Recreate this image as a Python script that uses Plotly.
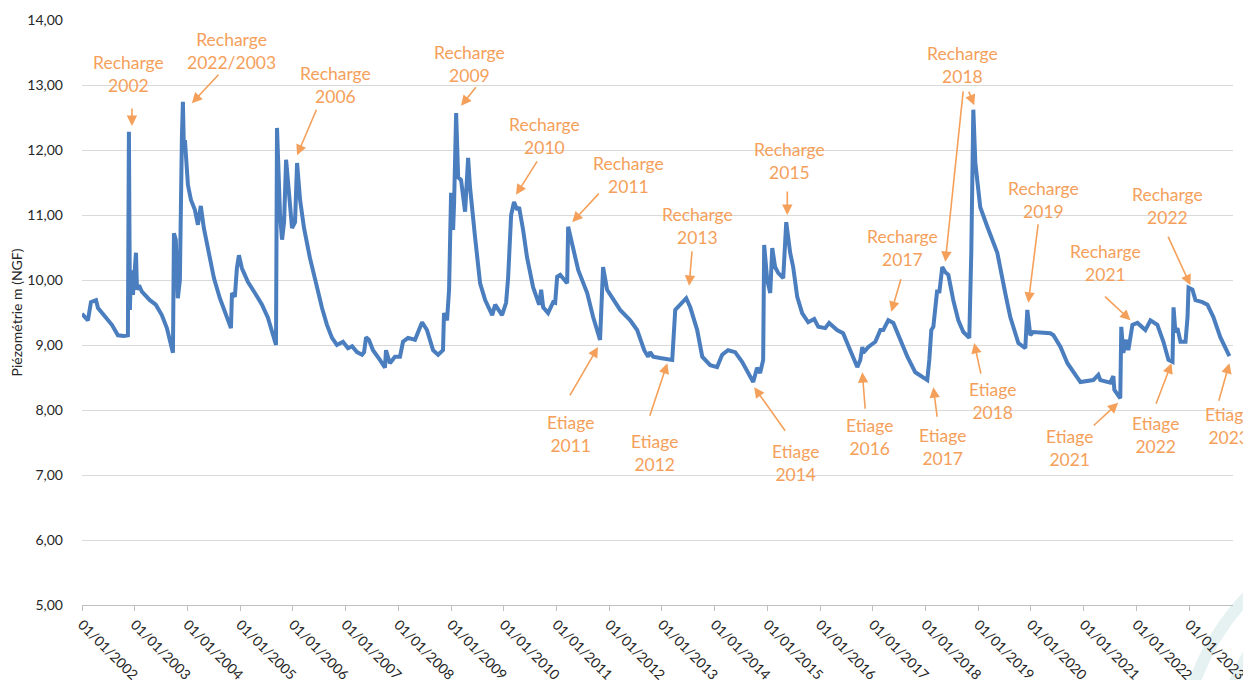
import plotly.graph_objects as go

# Chronique piézométrique
dates = [
    "2002-01-01", "2002-02-11", "2002-03-04", "2002-04-08", "2002-04-22", "2002-06-09",
    "2002-07-27", "2002-09-07", "2002-10-18", "2002-11-15", "2002-11-22", "2002-11-29",
    "2002-12-06", "2002-12-20", "2003-01-10", "2003-01-17", "2003-01-31", "2003-02-20",
    "2003-04-16", "2003-05-27", "2003-07-08", "2003-08-12", "2003-09-09", "2003-09-23",
    "2003-09-30", "2003-10-13", "2003-10-27", "2003-11-10", "2003-11-24", "2003-12-01",
    "2003-12-08", "2003-12-15", "2003-12-22", "2004-01-05", "2004-01-26", "2004-02-22",
    "2004-03-14", "2004-04-03", "2004-04-24", "2004-05-29", "2004-07-03", "2004-08-13",
    "2004-09-24", "2004-10-29", "2004-11-05", "2004-11-25", "2004-12-09", "2004-12-23",
    "2005-01-13", "2005-02-24", "2005-04-13", "2005-06-01", "2005-07-12", "2005-08-09",
    "2005-09-06", "2005-09-13", "2005-09-27", "2005-10-04", "2005-10-18", "2005-11-01",
    "2005-11-15", "2005-12-06", "2005-12-26", "2006-01-16", "2006-01-30", "2006-02-20",
    "2006-03-19", "2006-04-29", "2006-06-10", "2006-07-22", "2006-08-25", "2006-09-29",
    "2006-11-02", "2006-12-14", "2007-01-18", "2007-02-15", "2007-03-21", "2007-04-25",
    "2007-05-09", "2007-05-23", "2007-06-12", "2007-07-10", "2007-08-27", "2007-10-01",
    "2007-10-08", "2007-11-04", "2007-12-09", "2008-01-13", "2008-02-03", "2008-03-09",
    "2008-04-26", "2008-05-24", "2008-06-14", "2008-07-18", "2008-08-29", "2008-10-03",
    "2008-11-06", "2008-11-13", "2008-12-04", "2008-12-18", "2009-01-01", "2009-01-15",
    "2009-01-22", "2009-02-05", "2009-02-19", "2009-03-11", "2009-04-08", "2009-04-29",
    "2009-05-12", "2009-06-16", "2009-07-21", "2009-08-25", "2009-10-13", "2009-11-02",
    "2009-12-20", "2010-01-17", "2010-01-31", "2010-02-21", "2010-03-13", "2010-04-03",
    "2010-04-17", "2010-05-15", "2010-06-11", "2010-07-23", "2010-09-03", "2010-09-17",
    "2010-10-01", "2010-11-04", "2010-12-09", "2010-12-23", "2011-01-06", "2011-01-27",
    "2011-03-16", "2011-03-23", "2011-04-27", "2011-06-01", "2011-08-02", "2011-09-12",
    "2011-10-30", "2011-11-20", "2011-12-18", "2012-01-21", "2012-03-17", "2012-05-26",
    "2012-07-13", "2012-08-31", "2012-09-27", "2012-10-11", "2012-11-01", "2012-12-19",
    "2013-03-13", "2013-04-03", "2013-05-08", "2013-06-18", "2013-07-16", "2013-09-02",
    "2013-10-07", "2013-12-01", "2014-01-18", "2014-02-22", "2014-04-04", "2014-05-23",
    "2014-07-10", "2014-09-25", "2014-10-22", "2014-11-12", "2014-12-03", "2014-12-10",
    "2014-12-31", "2015-01-21", "2015-02-04", "2015-02-24", "2015-03-17", "2015-04-21",
    "2015-05-12", "2015-05-26", "2015-06-08", "2015-06-29", "2015-07-27", "2015-08-30",
    "2015-10-11", "2015-11-22", "2015-12-20", "2016-02-06", "2016-03-04", "2016-04-28",
    "2016-06-09", "2016-07-28", "2016-09-15", "2016-10-06", "2016-10-20", "2016-10-27",
    "2016-12-01", "2017-01-18", "2017-02-22", "2017-03-14", "2017-04-18", "2017-05-23",
    "2017-07-10", "2017-08-28", "2017-10-22", "2017-12-16", "2018-01-13", "2018-01-27",
    "2018-02-10", "2018-02-24", "2018-03-23", "2018-04-06", "2018-04-27", "2018-05-18",
    "2018-06-08", "2018-07-12", "2018-08-16", "2018-09-20", "2018-10-31", "2018-11-14",
    "2018-11-28", "2018-12-12", "2019-01-15", "2019-03-05", "2019-05-13", "2019-07-07",
    "2019-08-11", "2019-10-06", "2019-11-23", "2019-12-07", "2019-12-28", "2020-01-17",
    "2020-05-15", "2020-06-05", "2020-07-24", "2020-09-10", "2020-12-09", "2021-03-08",
    "2021-04-12", "2021-04-26", "2021-07-04", "2021-07-25", "2021-08-01", "2021-09-11",
    "2021-09-18", "2021-10-02", "2021-10-23", "2021-11-06", "2021-12-04", "2022-01-08",
    "2022-03-04", "2022-04-08", "2022-05-26", "2022-07-07", "2022-08-11", "2022-09-08",
    "2022-09-15", "2022-09-28", "2022-10-12", "2022-11-02", "2022-12-07", "2022-12-21",
    "2022-12-28", "2023-01-24", "2023-02-14", "2023-04-03", "2023-05-08", "2023-06-18",
    "2023-08-05", "2023-10-07",
]
niveaux = [
    9.48, 9.38, 9.66, 9.69, 9.57, 9.45,
    9.31, 9.15, 9.14, 9.15, 12.28, 9.54,
    10.15, 9.77, 10.42, 9.85, 9.92, 9.82,
    9.69, 9.62, 9.46, 9.26, 9.00, 8.88,
    10.72, 10.62, 9.72, 10.00, 12.18, 12.74,
    12.00, 12.15, 11.92, 11.46, 11.23, 11.08,
    10.85, 11.14, 10.80, 10.38, 10.03, 9.72,
    9.46, 9.26, 9.80, 9.74, 10.18, 10.38,
    10.18, 9.97, 9.80, 9.62, 9.42, 9.23,
    9.00, 12.34, 11.23, 11.00, 10.62, 10.89,
    11.85, 11.31, 10.80, 10.89, 11.80, 11.23,
    10.80, 10.34, 9.92, 9.57, 9.31, 9.11,
    9.00, 9.05, 8.95, 8.98, 8.89, 8.85,
    8.89, 9.12, 9.08, 8.92, 8.77, 8.65,
    8.92, 8.72, 8.82, 8.82, 9.05, 9.11,
    9.08, 9.23, 9.35, 9.23, 8.92, 8.85,
    8.92, 9.49, 9.38, 9.85, 11.34, 10.77,
    11.20, 12.57, 11.58, 11.54, 11.05, 11.88,
    11.43, 10.66, 9.95, 9.69, 9.46, 9.62,
    9.46, 9.65, 10.03, 11.00, 11.20, 11.08,
    11.12, 10.77, 10.35, 9.89, 9.62, 9.85,
    9.58, 9.49, 9.66, 9.65, 10.05, 10.08,
    9.95, 10.82, 10.51, 10.15, 9.80, 9.43,
    9.08, 10.20, 9.85, 9.74, 9.54, 9.38,
    9.23, 8.92, 8.82, 8.89, 8.82, 8.80,
    8.77, 9.54, 9.62, 9.72, 9.58, 9.23,
    8.82, 8.69, 8.66, 8.85, 8.92, 8.89,
    8.74, 8.43, 8.65, 8.57, 8.77, 10.54,
    10.00, 9.80, 10.49, 10.20, 10.11, 10.03,
    10.89, 10.66, 10.42, 10.20, 9.74, 9.49,
    9.35, 9.40, 9.28, 9.26, 9.34, 9.23,
    9.18, 8.92, 8.66, 8.77, 8.97, 8.88,
    8.97, 9.05, 9.23, 9.23, 9.38, 9.34,
    9.08, 8.82, 8.58, 8.51, 8.46, 8.77,
    9.23, 9.28, 9.85, 9.80, 10.20, 10.12,
    10.08, 9.69, 9.38, 9.20, 9.11, 10.43,
    12.62, 11.80, 11.12, 10.82, 10.42, 9.80,
    9.43, 9.03, 8.95, 9.54, 9.15, 9.20,
    9.18, 9.15, 8.97, 8.72, 8.43, 8.46,
    8.54, 8.46, 8.42, 8.52, 8.31, 8.18,
    9.28, 8.88, 9.08, 8.92, 9.31, 9.34,
    9.23, 9.38, 9.31, 9.05, 8.77, 8.74,
    9.58, 9.20, 9.26, 9.05, 9.05, 9.43,
    9.88, 9.85, 9.69, 9.66, 9.62, 9.43,
    9.12, 8.83,
]

# Annotations : texte, pointe de la flèche (date, niveau), queue (dx, dy px), centre du texte (dx, dy px)
annotations_txt = [
    ("Recharge<br>2002", "2002-12-13", 12.37, 0, -19, -3, -52),
    ("Recharge<br>2022/2003", "2004-02-01", 12.72, 28, -30, 40, -52),
    ("Recharge<br>2006", "2006-01-30", 11.92, 20, -47, 38, -70),
    ("Recharge<br>2009", "2009-03-11", 12.68, 16, -20, 8, -42),
    ("Recharge<br>2010", "2010-03-27", 11.31, 22, -35, 28, -59),
    ("Recharge<br>2011", "2011-04-20", 10.89, 28, -30, 56, -47),
    ("Recharge<br>2013", "2013-07-08", 9.91, 3, -36, 8, -60),
    ("Recharge<br>2015", "2015-05-19", 11.00, 0, -25, 2, -54),
    ("Recharge<br>2017", "2017-05-09", 9.51, 10, -34, 11, -64),
    ("Recharge<br>2018", "2018-05-18", 10.28, 18, -172, 17, -197),
    ("", "2018-12-04", 12.69, -6, -15, 0, 0),
    ("Recharge<br>2019", "2019-12-14", 9.65, 10, -80, 15, -103),
    ("Recharge<br>2021", "2021-11-21", 9.38, -27, -25, -25, -57),
    ("Recharge<br>2022", "2023-01-10", 9.92, -23, -50, -23, -79),
    ("Etiage<br>2011", "2011-10-16", 8.97, -29, 50, -28, 87),
    ("Etiage<br>2012", "2013-02-07", 8.72, -18, 54, -13, 90),
    ("Etiage<br>2014", "2014-10-02", 8.35, 32, 45, 41, 76),
    ("Etiage<br>2016", "2016-10-20", 8.58, 3, 38, 7, 65),
    ("Etiage<br>2017", "2018-02-24", 8.35, 4, 31, 9, 60),
    ("Etiage<br>2018", "2018-12-04", 9.03, 7, 32, 18, 58),
    ("Etiage<br>2021", "2021-08-28", 8.11, -26, 24, -49, 45),
    ("Etiage<br>2022", "2022-09-01", 8.72, -16, 42, -16, 72),
    ("Etiage<br>2023", "2023-10-07", 8.72, -11, 39, -1, 63),
]

orange = "#F5A05A"
bleu = "#4A7EBF"
police = "Lato, Carlito, Calibri, sans-serif"

fig = go.Figure()

fig.add_trace(go.Scatter(
    x=dates,
    y=niveaux,
    mode="lines",
    line=dict(color=bleu, width=4),
    showlegend=False,
))

annots = []
for texte, d, v, tdx, tdy, xdx, xdy in annotations_txt:
    # flèche
    annots.append(dict(
        x=d, y=v, xref="x", yref="y", text="", showarrow=True,
        ax=tdx, ay=tdy, arrowhead=2, arrowsize=1.3, arrowwidth=1.6,
        arrowcolor=orange, standoff=0, startstandoff=0,
    ))
    # texte
    if texte:
        annots.append(dict(
            x=d, y=v, xref="x", yref="y", text=texte, showarrow=False,
            xshift=xdx, yshift=-xdy, xanchor="center", yanchor="middle",
            font=dict(family=police, size=17.5, color=orange),
        ))

# la page ajoute une marge de 8 px autour du graphique : marges compensées
fig.update_layout(
    width=1251,
    height=680,
    margin=dict(l=74, r=26, t=12, b=83),
    paper_bgcolor="white",
    plot_bgcolor="white",
    separators=", ",
    font=dict(family=police, size=14, color="#262626"),
    annotations=annots,
    xaxis=dict(
        type="date",
        range=["2002-01-01", "2023-11-01"],
        tick0="2002-01-01",
        dtick="M12",
        tickformat="%d/%m/%Y",
        tickangle=45,
        ticks="outside",
        ticklen=5,
        tickcolor="#BFBFBF",
        showline=True,
        linecolor="#BFBFBF",
        linewidth=1,
        showgrid=False,
        zeroline=False,
        automargin=False,
        tickfont=dict(size=14),
    ),
    yaxis=dict(
        range=[5, 14],
        dtick=1,
        tickformat=".2f",
        showgrid=True,
        gridcolor="#D9D9D9",
        gridwidth=1,
        zeroline=False,
        showline=False,
        ticklabelstandoff=18,
        automargin=False,
        tickfont=dict(size=14),
        title=dict(text="Piézométrie m (NGF)", font=dict(size=14), standoff=4),
    ),
    shapes=[
        # reste du cadre de légende en haut à gauche
        dict(type="rect", xref="paper", yref="paper",
             x0=-0.065, x1=0.091, y0=1.026, y1=1.1,
             line=dict(color="#D9D9D9", width=1), fillcolor="white", layer="below"),
        # filigrane en bas à droite
        dict(type="circle", xref="paper", yref="paper",
             x0=0.954, x1=1.379, y0=-0.692, y1=0.145,
             line=dict(color="#E6F2F2", width=12), layer="below"),
        dict(type="circle", xref="paper", yref="paper",
             x0=0.988, x1=1.360, y0=-0.630, y1=0.100,
             line=dict(color="#E6F2F2", width=10), layer="below"),
    ],
)

fig.write_html("out.html")
